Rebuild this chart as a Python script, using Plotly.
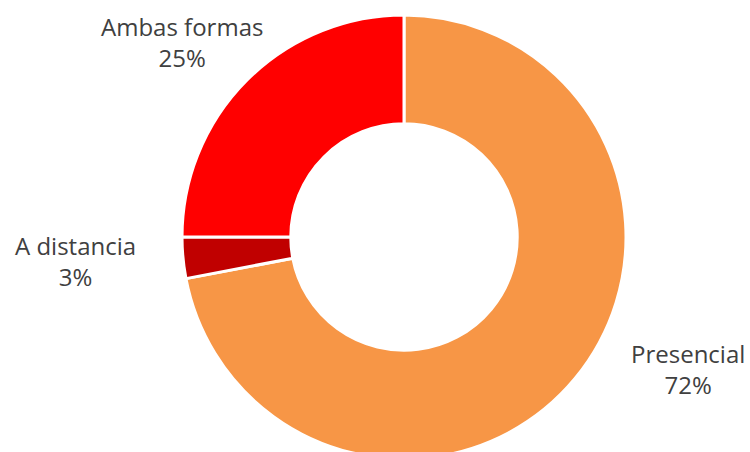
import plotly.graph_objects as go

categories = ["Presencial", "A distancia", "Ambas formas"]
values = [72, 3, 25]
colors = ["#F79646", "#C00000", "#FF0000"]

W, H = 750, 474
cx, cy, r = 404, 237, 222

fig = go.Figure(go.Pie(
    labels=categories,
    values=values,
    hole=0.51,
    sort=False,
    direction="clockwise",
    rotation=0,
    marker=dict(colors=colors, line=dict(color="white", width=3)),
    textinfo="none",
    hoverinfo="label+percent",
    showlegend=False,
    domain=dict(x=[(cx - r) / W, (cx + r) / W], y=[(H - cy - r) / H, (H - cy + r) / H]),
))

label_pos = {"Presencial": (688, 369), "A distancia": (75, 261), "Ambas formas": (182, 42)}
total = sum(values)
for cat, v in zip(categories, values):
    px, py = label_pos[cat]
    fig.add_annotation(
        x=px / W, y=(H - py) / H, xref="paper", yref="paper",
        text=f"{cat}<br>{round(v / total * 100)}%",
        showarrow=False, xanchor="center", yanchor="middle", align="center",
        font=dict(family="Open Sans", size=24, color="#404040"),
    )

fig.update_layout(
    width=W, height=H,
    margin=dict(l=0, r=0, t=0, b=0),
    paper_bgcolor="white", plot_bgcolor="white",
)
fig.write_html(
    "out.html",
    config={"displayModeBar": False},
    post_script="document.body.style.margin='0';document.body.style.overflow='hidden';",
)
